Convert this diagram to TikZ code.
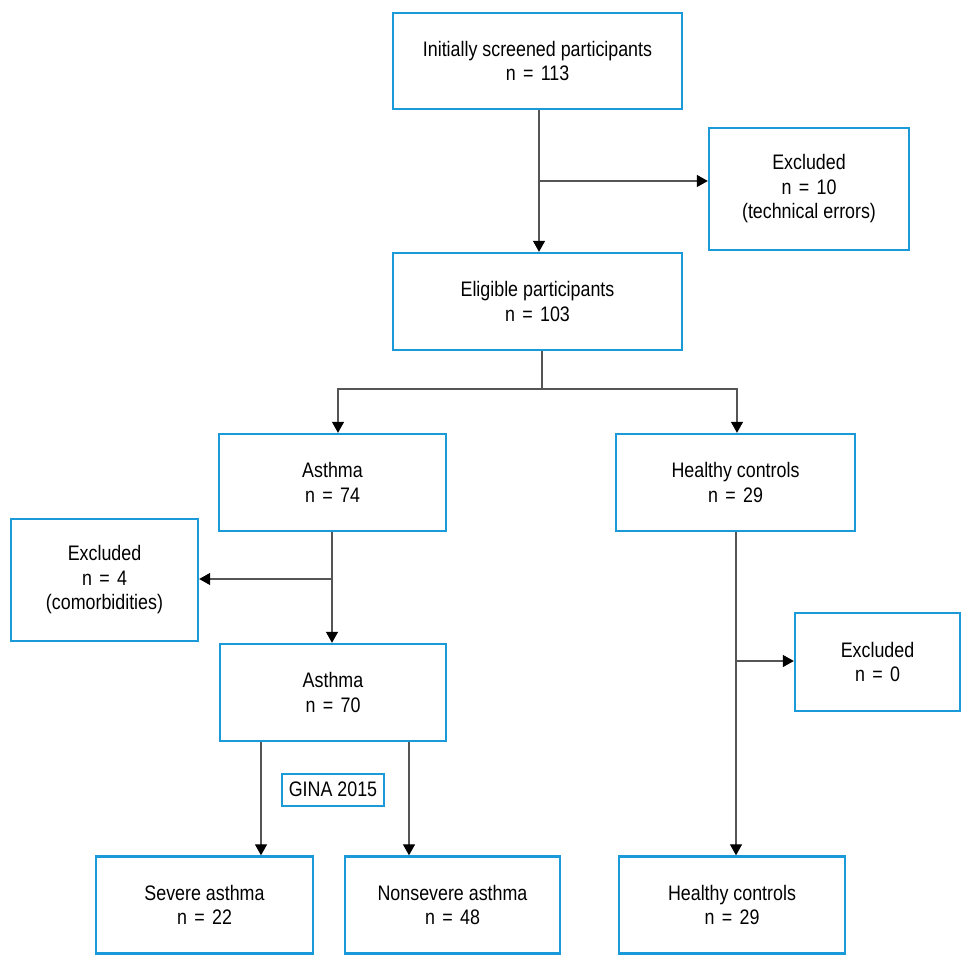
\documentclass[tikz,border=0pt]{standalone}
\usepackage{fontspec}
\setmainfont[FakeStretch=0.85]{Liberation Sans}
\usetikzlibrary{arrows.meta}
\definecolor{boxblue}{HTML}{1A9AD9}
\definecolor{linegray}{HTML}{555555}
\newcommand{\myeq}{\hspace{0.35em}=\hspace{0.35em}}
\begin{document}
\begin{tikzpicture}[x=1pt,y=-1pt,
  box/.style={draw=boxblue,line width=2.4pt,align=center,inner sep=0pt,font=\fontsize{21}{24.5}\selectfont},
  conn/.style={draw=linegray,line width=1.3pt},
  arr/.style={conn,-{Triangle[length=11pt,width=12pt,fill=black,color=black]}}]
\useasboundingbox (0,0) rectangle (971,968);
\node[box,minimum width=289,minimum height=96] (top) at (537.5,61) {Initially screened participants\\n\myeq 113};
\node[box,minimum width=200,minimum height=122] (exc1) at (809,189) {Excluded\\n\myeq 10\\(technical errors)};
\node[box,minimum width=289,minimum height=97] (elig) at (537.5,301.5) {Eligible participants\\n\myeq 103};
\node[box,minimum width=227,minimum height=97] (ast1) at (332.5,482.5) {Asthma\\n\myeq 74};
\node[box,minimum width=239,minimum height=97] (hc1) at (735.5,482.5) {Healthy controls\\n\myeq 29};
\node[box,minimum width=187,minimum height=122] (exc2) at (104.5,580) {Excluded\\n\myeq 4\\(comorbidities)};
\node[box,minimum width=226,minimum height=97] (ast2) at (333,692.5) {Asthma\\n\myeq 70};
\node[box,minimum width=165,minimum height=98] (exc3) at (877.5,662) {Excluded\\n\myeq 0};
\node[box,line width=2pt,minimum width=102,minimum height=32] (gina) at (333,789.5) {GINA 2015};
\node[box,minimum width=217,minimum height=97] (sev) at (204.5,905) {Severe asthma\\n\myeq 22};
\node[box,minimum width=215,minimum height=97] (non) at (452.5,905) {Nonsevere asthma\\n\myeq 48};
\node[box,minimum width=226,minimum height=97] (hc2) at (732,905) {Healthy controls\\n\myeq 29};
% connectors
\coordinate (b1) at (539,181);
\draw[arr] (top.south -| b1) -- (elig.north -| b1);
\draw[arr] (b1) -- (exc1.west |- b1);
\coordinate (b2) at (542,389);
\draw[conn] (elig.south -| b2) -- (b2);
\coordinate (l2) at (338,389);
\coordinate (r2) at (737,389);
\draw[arr] (b2) -- (l2) -- (ast1.north -| l2);
\draw[arr] (b2) -- (r2) -- (hc1.north -| r2);
\coordinate (b3) at (332,579);
\draw[arr] (ast1.south -| b3) -- (ast2.north -| b3);
\draw[arr] (b3) -- (exc2.east |- b3);
\coordinate (b4) at (736,661);
\draw[arr] (hc1.south -| b4) -- (hc2.north -| b4);
\draw[arr] (b4) -- (exc3.west |- b4);
\coordinate (c1) at (261,0);
\coordinate (c2) at (409,0);
\draw[arr] (ast2.south -| c1) -- (sev.north -| c1);
\draw[arr] (ast2.south -| c2) -- (non.north -| c2);
\end{tikzpicture}
\end{document}
